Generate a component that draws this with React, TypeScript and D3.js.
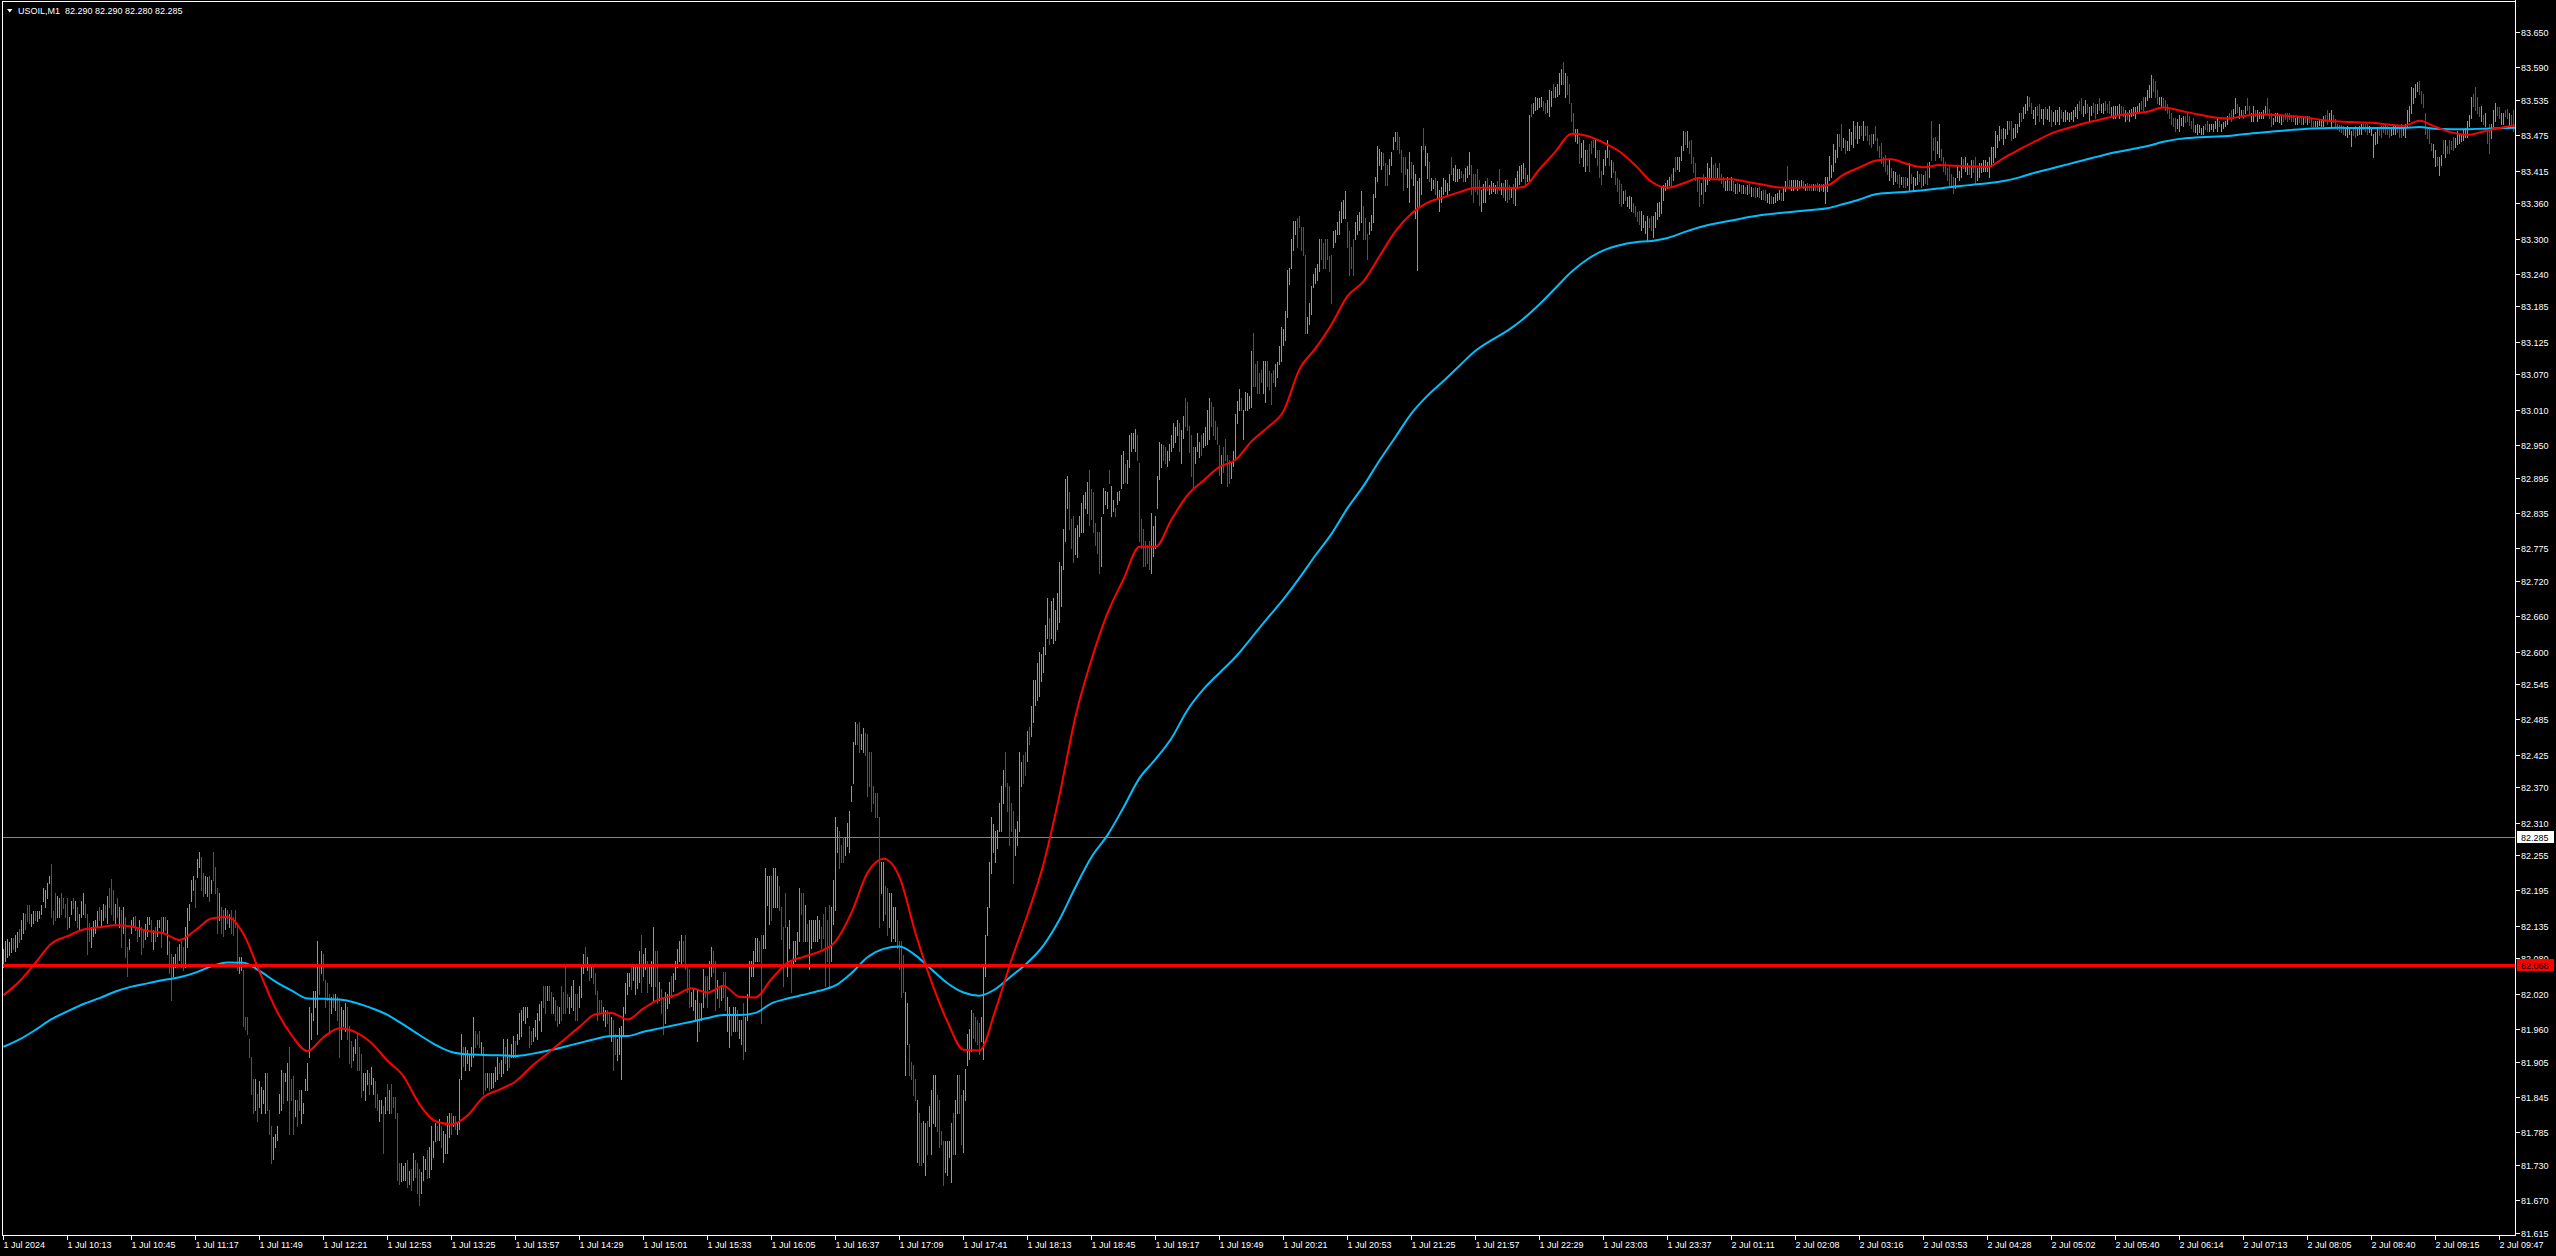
import React, { useMemo } from "react";
import * as d3 from "d3";

// ---------------- DATA ----------------
const chartTitle = "USOIL,M1  82.290 82.290 82.280 82.285";
const bidPrice = 82.285;
const levelPrice = 82.068;
const levelLabel = "82.068";
const bidLabel = "82.285";

const timeLabels = [
  "1 Jul 2024", "1 Jul 10:13", "1 Jul 10:45", "1 Jul 11:17", "1 Jul 11:49", "1 Jul 12:21",
  "1 Jul 12:53", "1 Jul 13:25", "1 Jul 13:57", "1 Jul 14:29", "1 Jul 15:01", "1 Jul 15:33",
  "1 Jul 16:05", "1 Jul 16:37", "1 Jul 17:09", "1 Jul 17:41", "1 Jul 18:13", "1 Jul 18:45",
  "1 Jul 19:17", "1 Jul 19:49", "1 Jul 20:21", "1 Jul 20:53", "1 Jul 21:25", "1 Jul 21:57",
  "1 Jul 22:29", "1 Jul 23:03", "1 Jul 23:37", "2 Jul 01:11", "2 Jul 02:08", "2 Jul 03:16",
  "2 Jul 03:53", "2 Jul 04:28", "2 Jul 05:02", "2 Jul 05:40", "2 Jul 06:14", "2 Jul 07:13",
  "2 Jul 08:05", "2 Jul 08:40", "2 Jul 09:15", "2 Jul 09:47",
];
const barsPerLabel = 32;

const priceTicks = [
  "83.650", "83.590", "83.535", "83.475", "83.415", "83.360", "83.300", "83.240", "83.185",
  "83.125", "83.070", "83.010", "82.950", "82.895", "82.835", "82.775", "82.720", "82.660",
  "82.600", "82.545", "82.485", "82.425", "82.370", "82.310", "82.255", "82.195", "82.135",
  "82.080", "82.020", "81.960", "81.905", "81.845", "81.785", "81.730", "81.670", "81.615",
];

// Price units: price = 81.600 + u * 0.0025
const PRICE_BASE = 81.6;
const PRICE_UNIT = 0.0025;

// One string per time-label interval (32 one-minute bars each).
// Token "low+range" = rising bar, "low-range" = falling bar (low..low+range).
const barSegments = [
  "186+12 190+14 193+12 194+9 196+10 198-8 197+11 200+10 203-9 205+13 209+14 212-10 217-11 216-12 214+8 216+8 218-6 217+7 219+5 222+6 231+9 227+11 233+10 243+5 220-36 215-9 218-18 220+14 220+13 222-14 226-7 220-9",
  "212-21 213+7 222+9 226-7 218+13 213-14 212+10 220+11 222+14 220-9 195-27 204-12 200+13 207+10 209+9 213+11 218-9 213+12 218+11 220-8 216+18 227-13 222-24 218-20 216+13 220-13 213+14 200-25 209+18 193-27 180-20 198+7",
  "209+9 213+7 211-10 204-9 207+11 195-18 200-11 205+10 207+13 215+5 204-14 198+13 204-9 207+11 213+5 200-20 209+11 211-9 195+23 182-22 164-31 180+13 186+9 186-14 191+11 186-18 184-16 186+27 200+26 218+11 231+14 238+10",
  "227-18 247+12 254+10 238-23 234-16 236+12 234+13 231-17 236+9 245-19 236-18 209-31 218+18 209-18 207-18 212+14 216-9 213+9 209-16 208-12 213-12 184-32 182+11 184+9 146-38 144-8 141-11 125-12 100-25 87-23 89+21 82-18",
  "91+18 87+18 94+9 87+27 89-25 73-16 53-25 56+15 64+9 69+9 87+13 89+27 94-20 109+5 96+25 73-59 96-14 73-39 85+11 78-18 89-14 80+23 87+7 103+7 103+18 125+34 137+18 150+20 159+11 141+63 168-20 182+15",
  "177-18 159-18 164-11 141-27 155+11 159-9 157+11 150-16 125-39 137+22 146+11 143+19 137-22 121-25 118-18 123+9 128+9 116-25 116-16 98-29 103+11 96+18 107+9 100-14 107+11 100+11 91-18 89-11 82+14 87+9 60-32 87+11",
  "89-18 87+16 87-20 91-7 84-14 42-45 39-14 41+12 42+9 42+11 37-18 39+9 35-14 42+18 44-11 33-20 25-24 33+14 42+16 49+7 43-19 44+20 49+29 57+11 68+12 69-9 69+14 64-14 54+21 60+13 60+25 71+16",
  "73-14 78+7 76-9 73+7 76+34 110+31 119-13 116+16 121+9 116+11 119+13 125+27 132-11 134-7 132-11 128+7 100-32 103-11 105+9 103-11 104+10 105+9 109+9 110+15 114-7 112+11 114+23 121-11 116+21 118-9 125+9 125+14",
  "125-11 134+7 137+18 139+18 150+9 148+11 152+7 132-14 134-9 136+9 139+11 137+18 150+11 143+20 159-14 155-18 164+9 164-9 155-14 155+11 150-14 146-14 148+11 150-23 155-14 155-32 159-9 155+11 159+14 157+20 150-18 150-18",
  "159+14 166+20 182+13 186-14 184+9 177-11 179+9 175-11 168-14 150-20 155-9 155-9 150+9 146+11 148-9 141-14 136+16 116-34 127-14 123+14 127+18 110+36 141+18 155+20 168+14 173+9 171-16 177+9 168+18 172+14 176+21 169-39",
  "180+15 185+14 169-21 175+12 173+17 164+49 173-24 162-35 164+12 155-16 141-25 148+21 158+10 162+14 166-14 170+12 178+12 186+12 190+14 187+21 190-14 185-23 169-18 159-26 160+9 157+14 150+14 136+35 143-19 150+12 159+26 166-14",
  "159-21 171+19 180+20 183-14 157-33 165+12 159-14 164+10 166-17 157-26 143+23 132+27 140-14 143+16 143+16 143-14 138+12 134+16 124-38 129+23 150+18 166+24 180+10 180+17 190+16 190+16 190-14 148-60 199+9 199+54 228+20 215+33",
  "218-30 227+26 227+26 227+21 225-16 205-22 173-40 213-23 180+33 199+19 169-21 187+17 190+14 195+15 204+36 222-14 204-32 204+24 204-11 185+33 199+19 204+14 204+14 204+17 206+12 199-14 206-16 173-54 190-28 173-55 190+37 215+30",
  "225+63 264+17 253-25 257-12 257-17 262+12 268+16 264+28 299+10 311+28 337+15 337-14 332-20 334+10 332+16 330-15 302-42 309-23 292-40 297-12 288-16 288-16 213-75 236+21 218+39 222-19 208-32 213+23 204+32 206+21 204+23 199-19",
  "185-19 166-38 169-25 113+56 134+28 113-21 110-12 99-21 96-14 54+42 52-35 52-28 54+28 45+35 59-23 78+14 59+44 80+33 78+35 75-24 64-32 66-9 38-30 47+21 45+23 57+11 40+40 59-28 59+37 87+26 87-26 66-33",
  "61+42 96+21 120+21 124+20 129+28 138-17 136-16 134-16 127-21 136+16 124+63 180+28 208+19 227+30 250+38 264+19 257+21 267+12 278+19 278+31 297+23 309-23 292-19 269-40 278-19 243-49 262+18 269+16 278+54 309+16 311-19 316-16",
  "326+20 337-12 343+20 352+29 364+17 367+25 370+30 380+18 386+17 398+20 409+27 405-18 409+25 406+30 408+20 415+25 420+41 431+27 456+27 475+42 497+22 483-25 470-20 461-31 466+18 464+22 478+14 481+20 481+25 497+11 494+21 486-37",
  "490-20 481-27 472-15 467-14 453-28 458+33 494+17 500+9 497+11 514-9 492+20 495+8 492-5 500+8 503+6 511+22 514+22 515-12 514+16 525+22 536+12 538+10 536+15 530-17 475-53 470-20 458-25 458-17 460-12 456-19 453+41 465+20",
  "470+22 497+22 517+25 525+16 530-10 528-11 526+10 530+11 536+11 539+16 542+10 547+10 536-19 528+22 545+15 553-19 550-19 535-18 519-28 511-28 528+11 536+12 532+10 533-14 539+9 540+12 541+23 544+28 553-16 547-19 544-12 541-11",
  "520-20 514+19 522-17 530-14 512-21 514-16 518+10 526+10 530+31 555+15 564+14 564-8 544+20 564+12 564+11 565+8 566+38 580-36 580-15 575-22 575-14 583-8 575+22 569+28 580-17 578-12 568-21 583-8 580+15 586+10 595+12 597+23",
  "608+11 611+20 627+32 649+11 660+20 672+20 683+9 674-20 688-7 672-16 669-19 616-53 616+11 622+14 629+19 647+9 650+10 652+11 658+22 666-14 660-17 660-20 666-14 658-10 636-33 674+11 678+8 683+8 683+16 691+14 694+12 694+18",
  "674-17 655-30 660-14 655-25 680+11 683+13 686+12 691+21 680-22 680-14 666-17 683+8 686+10 691+19 708+14 719+24 730+11 727+12 730-8 716-15 716-14 724+10 730+9 741+8 746+6 741-11 738-11 725-15 713-22 724-11 715+12 705+34",
  "721-11 716+14 694+30 659+60 702+19 710+33 741-14 730+13 721+17 719-13 713+8 714+6 710-11 708+11 699+14 705+10 710+11 712+8 710+8 713+11 724-11 720+8 719+11 719+8 721+6 722-4 719-5 719+9 722+7 724+15 710-20 705-19",
  "712-12 710-17 703-17 699+14 705+12 705+14 713-8 710+6 711+8 712+6 711+5 711-8 713-14 710+8 708-10 706+14 705-15 707-9 708+7 704-13 703+18 714+12 717+12 719+11 721+10 716-12 719+4 719+45 763-8 765+7 767+9 768+7",
  "769+6 770+6 767-6 765-7 766+8 763+18 770+10 776-9 776+7 777+8 778+14 785+10 785-15 776+16 778-12 772-13 760-12 751-14 746+8 745+9 731-18 735+10 729+18 726+14 730-10 726-18 738-8 742-5 735+12 730-10 722-18 717-9",
  "724+10 730+10 735+12 730-10 722+11 725-7 717-9 712-9 704-16 702-15 704+8 706-7 702+6 701+8 699+9 698-6 695-7 692-6 690-9 686+13 688+8 684+8 679+16 688-6 686-9 681+14 688+10 693+11 695+10 697+18 706+10 713+5",
  "714+6 716+6 715-9 720+8 726-9 727+8 726+9 733+10 740+13 744-8 742+11 738-8 731-16 725-10 720-11 712-10 702-18 710+8 704-20 712+10 717+14 720+8 722+13 722-8 722-9 722+6 720-11 718-6 715-7 713+6 713+9 713-6",
  "713+9 712-7 711+6 711-7 712+5 711-5 711+5 711-4 710+6 711-6 709+6 709-5 708-7 709+5 708-7 707+5 707-6 706-7 705+5 704+7 704-5 704+4 705+5 706+5 707+6 706-5 706+9 712+7 715-14 714-6 713+7 713+7",
  "714+6 713+7 714+5 715+5 714-5 713+4 713-5 713-4 713-4 713+4 713-4 713-5 712+5 713-4 712+5 704+18 712+10 720+16 722+8 726+18 732+8 735+16 743-8 740-18 742+6 738-9 740+6 740+14 744+8 742+18 748-8 745+14",
  "748+8 750-6 747+13 750-6 747-9 744-6 742-9 745+6 747-9 740-8 735-8 731-14 729-6 726-11 724-6 720+13 722-6 717+9 719+6 718-5 715-9 717+5 715-7 715-7 716+5 713+18 718-6 713+9 716+5 717+9 719-5 715-9",
  "716+7 718-8 717-14 722+10 733-27 740-8 733-16 738+8 735+23 733-8 726-9 724-8 720-8 715-14 716-8 711-11 714+7 722+7 720+6 722+13 728-6 726+9 724+7 724-6 722+11 725-8 717-18 720+8 722+9 725+6 726+7 726+7",
  "726+6 722+13 729+13 732+10 735+18 742+8 747+9 748-6 744+11 748+6 751+9 754-6 747-13 748+7 749+9 752+6 756+9 760-5 762+7 765+6 767+10 770-6 765-7 762+5 758+11 764-6 760-11 762+6 758+10 762-7 761+7 760+10",
  "756-11 760+6 758+9 760+7 758+11 762-5 760+6 760+7 761+5 760+5 761+5 760+7 763+6 762+9 767-6 765-10 763+7 765+9 766-5 760+9 764+6 766-6 762-9 765+6 767-8 766+5 765+7 767-6 766-5 765-8 764+5 762+8",
  "762+8 764+6 762+9 765-5 763-6 760+7 761-5 760+7 763+5 764+5 762+7 765+5 765+7 768-5 767-9 770+6 774+7 776+8 776+15 780-8 776-11 772-9 771+5 769+7 770-5 767-7 765-6 762-5 758-7 756-6 753-9 755+6",
  "753+11 757+5 756+7 759-4 760-5 757-6 755-5 753-9 752+5 751+7 752+5 751+4 751+5 754-4 753-7 753+5 754+4 753+5 755+5 753+9 756-4 753+5 755+4 756+4 758+5 761-4 760-7 762+6 765+10 766-5 762+7 763+4",
  "762-5 765+5 767-8 764-6 760+5 760+10 763-4 760+7 762+4 762+4 762+5 765+5 765-10 762-6 756-9 758+4 760+5 760+5 759+4 758+5 760-3 761-4 760-5 761-4 760-4 760-4 758+4 758+5 759-4 758-5 758+4 759-4",
  "758+5 759-4 756-5 756-4 756+4 756+4 757+4 756+5 756+7 760-4 758-9 760+5 756+11 759-5 756-5 754-4 753-4 752-5 751-5 750+4 749+7 751+4 743+10 750-5 749-7 750+4 751+5 751+7 754-4 753-5 751-7 752+4",
  "750+5 735+16 744+8 745+9 750-5 749-7 752-4 751-7 751-5 749-5 750+4 751+5 751+5 752-4 749-5 749-9 750+4 749+9 756+11 760+10 765+18 772+10 776+9 780+6 778-9 772-8 769-9 751-14 748-6 745-9 740-5 735+9",
  "729+11 730-5 723+12 730+7 738-9 735+12 738-5 738-9 741-5 740-9 742+6 744+9 745+5 746+5 747+7 749+6 749+11 756+8 762+14 770-8 767-16 765-11 763-6 760+10 758-6 756+9 745-10 738-20 748+10 756+11 760+12 764-5",
  "762-7 758+7 758+7 763-4 762-6 756+9 758-6 753-14",
];

// Moving averages, one value every 8 bars (same price units).
const maStep = 8;
const maFast = [
  167, 176.5, 189, 202, 207, 211.5, 213, 214.5, 213.5, 210.5,
  209, 204.5, 211, 219, 220, 208.5, 183, 158, 140, 129,
  138.5, 144.5, 142, 134.5, 122.5, 112, 93, 81.5, 79.5, 85.5,
  98, 103, 108.5, 118.7, 127.5, 136.5, 145.5, 154, 155, 150.5,
  158, 164.3, 167, 171.7, 168.8, 173.2, 166, 165.5, 178, 189,
  193, 196.5, 203.5, 223, 250, 259.5, 247, 209, 176, 149,
  130, 129.5, 157, 191, 221.5, 256, 302.5, 356, 394.5, 426,
  449, 471, 471, 489.5, 506, 516, 525.2, 530, 542.5, 552,
  563, 591.5, 605.5, 621.7, 641, 651, 668, 685, 697, 704.3,
  708, 711.5, 714.4, 714.4, 714.2, 715, 727, 739, 751, 749.5,
  745, 739, 729.5, 718.5, 714.5, 717.5, 721, 720.2, 720.3, 718.4,
  716.5, 714.7, 714.5, 715.1, 716.1, 723.3, 728.2, 732.7, 733.7, 730.5,
  728.4, 729.8, 729.3, 728.9, 728.6, 734.5, 740.5, 746, 751.3, 754.8,
  758, 760.6, 763.1, 764.7, 766, 768.9, 766.8, 764.5, 762.5, 761.5,
  763, 764.1, 763.7, 763, 762, 760.3, 759.4, 758.9, 758.5, 757.4,
  756.5, 759.8, 755.8, 752, 750.3, 752.6, 755, 756.9,
];
const maSlow = [
  132, 137, 143.5, 150.7, 156, 161, 165, 169.5, 172.8, 175,
  177.3, 179.1, 182.3, 186.6, 189.1, 189, 183.5, 176.2, 170.2, 164.8,
  164.5, 164, 161.9, 158.2, 153.6, 147, 140, 133.3, 128.5, 126.9,
  126.5, 126.2, 125.8, 127.2, 129.3, 131.9, 134.6, 137.3, 139.3, 139.3,
  142.2, 144.5, 146.8, 149, 151.5, 153.5, 153.5, 155, 161.5, 164.7,
  167.3, 170, 173.6, 182, 192.7, 198.4, 200, 194, 184.5, 175.1,
  168.8, 166.7, 171.2, 180, 189, 200.8, 218.3, 240.3, 260.7, 275.5,
  294.3, 314.2, 327, 341.2, 360.4, 374.5, 385.5, 396.3, 409.3, 422.6,
  435.5, 449.9, 465.3, 479.8, 497.2, 512.3, 529.5, 545.5, 561.5, 573.5,
  583.4, 593.8, 603.9, 611.1, 617.6, 625.7, 635.5, 646.5, 657.5, 666,
  672, 675.5, 677.5, 678.4, 680.4, 684.2, 687.7, 690.2, 692.2, 694.4,
  696.1, 697.3, 698.3, 699.4, 700.5, 703.4, 706.5, 710, 711.1, 711.8,
  712.8, 714, 715.3, 716.4, 717.5, 719, 721.5, 724.8, 727.5, 730.3,
  733.1, 735.9, 738.5, 740.6, 742.7, 745.6, 747.6, 748.5, 749, 749.5,
  750.8, 751.8, 752.7, 753.7, 754.5, 754.8, 755.1, 755, 755, 755,
  755, 755.6, 754.4, 754.1, 754.2, 754.5, 754.8, 755.1,
];

// ---------------- LAYOUT ----------------
const W = 2556;
const H = 1256;
const LEFT = 2;
const AXIS_X = 2515;
const TOP = 1;
const AXIS_Y = 1235;
const FONT = "'Liberation Sans', Arial, sans-serif";
const BULL = "#00ff00";
const BEAR = "#dc143c";

type Bar = { i: number; lo: number; hi: number; up: boolean };

const toPrice = (u: number) => PRICE_BASE + u * PRICE_UNIT;

function parseBars(): Bar[] {
  const out: Bar[] = [];
  barSegments
    .join(" ")
    .trim()
    .split(/\s+/)
    .forEach((tok) => {
      const m = /^(\d+)([+-])(\d+)$/.exec(tok);
      if (!m) return;
      const lo = +m[1];
      const hi = lo + +m[3];
      out.push({ i: out.length, lo: toPrice(lo), hi: toPrice(hi), up: m[2] === "+" });
    });
  return out;
}

export default function App() {
  const bars = useMemo(parseBars, []);

  const x = d3.scaleLinear().domain([0, 1255]).range([3, 2513]);
  const y = d3.scaleLinear().domain([81.611, 83.701]).range([AXIS_Y, 2]);

  const barPath = (up: boolean) =>
    bars
      .filter((b) => b.up === up)
      .map((b) => {
        const px = Math.round(x(b.i)) + 0.5;
        const y1 = Math.round(y(b.hi));
        const y2 = Math.max(y1 + 1, Math.round(y(b.lo)) + 1);
        return `M${px},${y1}V${y2}`;
      })
      .join("");

  const maLine = (vals: number[]) =>
    d3
      .line<number>()
      .x((_, k) => x(k * maStep) + 0.5)
      .y((v) => y(toPrice(v)))
      .curve(d3.curveMonotoneX)(vals) || "";

  const bidY = Math.round(y(bidPrice)) + 0.5;
  const levelY = y(levelPrice);

  return (
    <div style={{ width: W, height: H, overflow: "hidden" }}>
      <style>{`html,body{margin:0;padding:0;background:#000;overflow:hidden}`}</style>
      <svg width={W} height={H} style={{ display: "block" }} fontFamily={FONT}>
        <defs>
          <clipPath id="plot">
            <rect x={LEFT + 1} y={TOP + 1} width={AXIS_X - LEFT - 1} height={AXIS_Y - TOP - 1} />
          </clipPath>
        </defs>
        <rect x={0} y={0} width={W} height={H} fill="#000" />

        {/* bid line */}
        <line x1={LEFT} x2={AXIS_X} y1={bidY} y2={bidY} stroke="#778899" strokeWidth={1} shapeRendering="crispEdges" />

        {/* bars */}
        <g clipPath="url(#plot)" shapeRendering="crispEdges">
          <path d={barPath(false)} stroke={BEAR} strokeWidth={1} fill="none" />
          <path d={barPath(true)} stroke={BULL} strokeWidth={1} fill="none" />
        </g>

        {/* moving averages */}
        <g clipPath="url(#plot)" fill="none">
          <path d={maLine(maSlow)} stroke="#00bfff" strokeWidth={2} />
          <path d={maLine(maFast)} stroke="#ff0000" strokeWidth={2} />
        </g>

        {/* horizontal level */}
        <rect x={LEFT} y={Math.round(levelY) - 1} width={AXIS_X - LEFT} height={3} fill="#ff0000" />

        {/* frame & axes */}
        <g stroke="#ffffff" strokeWidth={1} shapeRendering="crispEdges">
          <line x1={LEFT + 0.5} x2={LEFT + 0.5} y1={TOP} y2={AXIS_Y + 1} />
          <line x1={LEFT} x2={AXIS_X + 1} y1={TOP + 0.5} y2={TOP + 0.5} />
          <line x1={AXIS_X + 0.5} x2={AXIS_X + 0.5} y1={0} y2={AXIS_Y + 1} />
          <line x1={LEFT} x2={AXIS_X + 1} y1={AXIS_Y + 0.5} y2={AXIS_Y + 0.5} />
        </g>

        {/* price axis */}
        <g fontSize={9} fill="#ffffff">
          {priceTicks.map((t) => {
            const py = Math.round(y(+t)) + 0.5;
            return (
              <g key={t}>
                <line x1={AXIS_X + 1} x2={AXIS_X + 5} y1={py} y2={py} stroke="#ffffff" shapeRendering="crispEdges" />
                <text x={AXIS_X + 6} y={py + 3.3}>{t}</text>
              </g>
            );
          })}
        </g>

        {/* bid label */}
        <rect x={AXIS_X + 2} y={bidY - 6.5} width={37} height={12} fill="#ffffff" />
        <text x={AXIS_X + 6} y={bidY + 3.3} fontSize={9} fill="#000000">{bidLabel}</text>

        {/* level label */}
        <rect x={AXIS_X + 2} y={Math.round(levelY) - 6} width={37} height={12} fill="#ff0000" />
        <text x={AXIS_X + 6} y={Math.round(levelY) + 3.8} fontSize={9} fill="#000000">{levelLabel}</text>

        {/* time axis */}
        <g fontSize={9} fill="#ffffff">
          {timeLabels.map((t, k) => {
            const px = Math.round(x(k * barsPerLabel)) + 0.5;
            return (
              <g key={t}>
                <line x1={px} x2={px} y1={AXIS_Y + 1} y2={AXIS_Y + 5} stroke="#ffffff" shapeRendering="crispEdges" />
                <text x={px} y={AXIS_Y + 12.5}>{t}</text>
              </g>
            );
          })}
        </g>

        {/* title */}
        <polygon points="7,9 12.5,9 9.75,12.5" fill="#ffffff" />
        <text x={18} y={14} fontSize={9} fill="#ffffff" style={{ whiteSpace: "pre" }}>
          {chartTitle}
        </text>
      </svg>
    </div>
  );
}
